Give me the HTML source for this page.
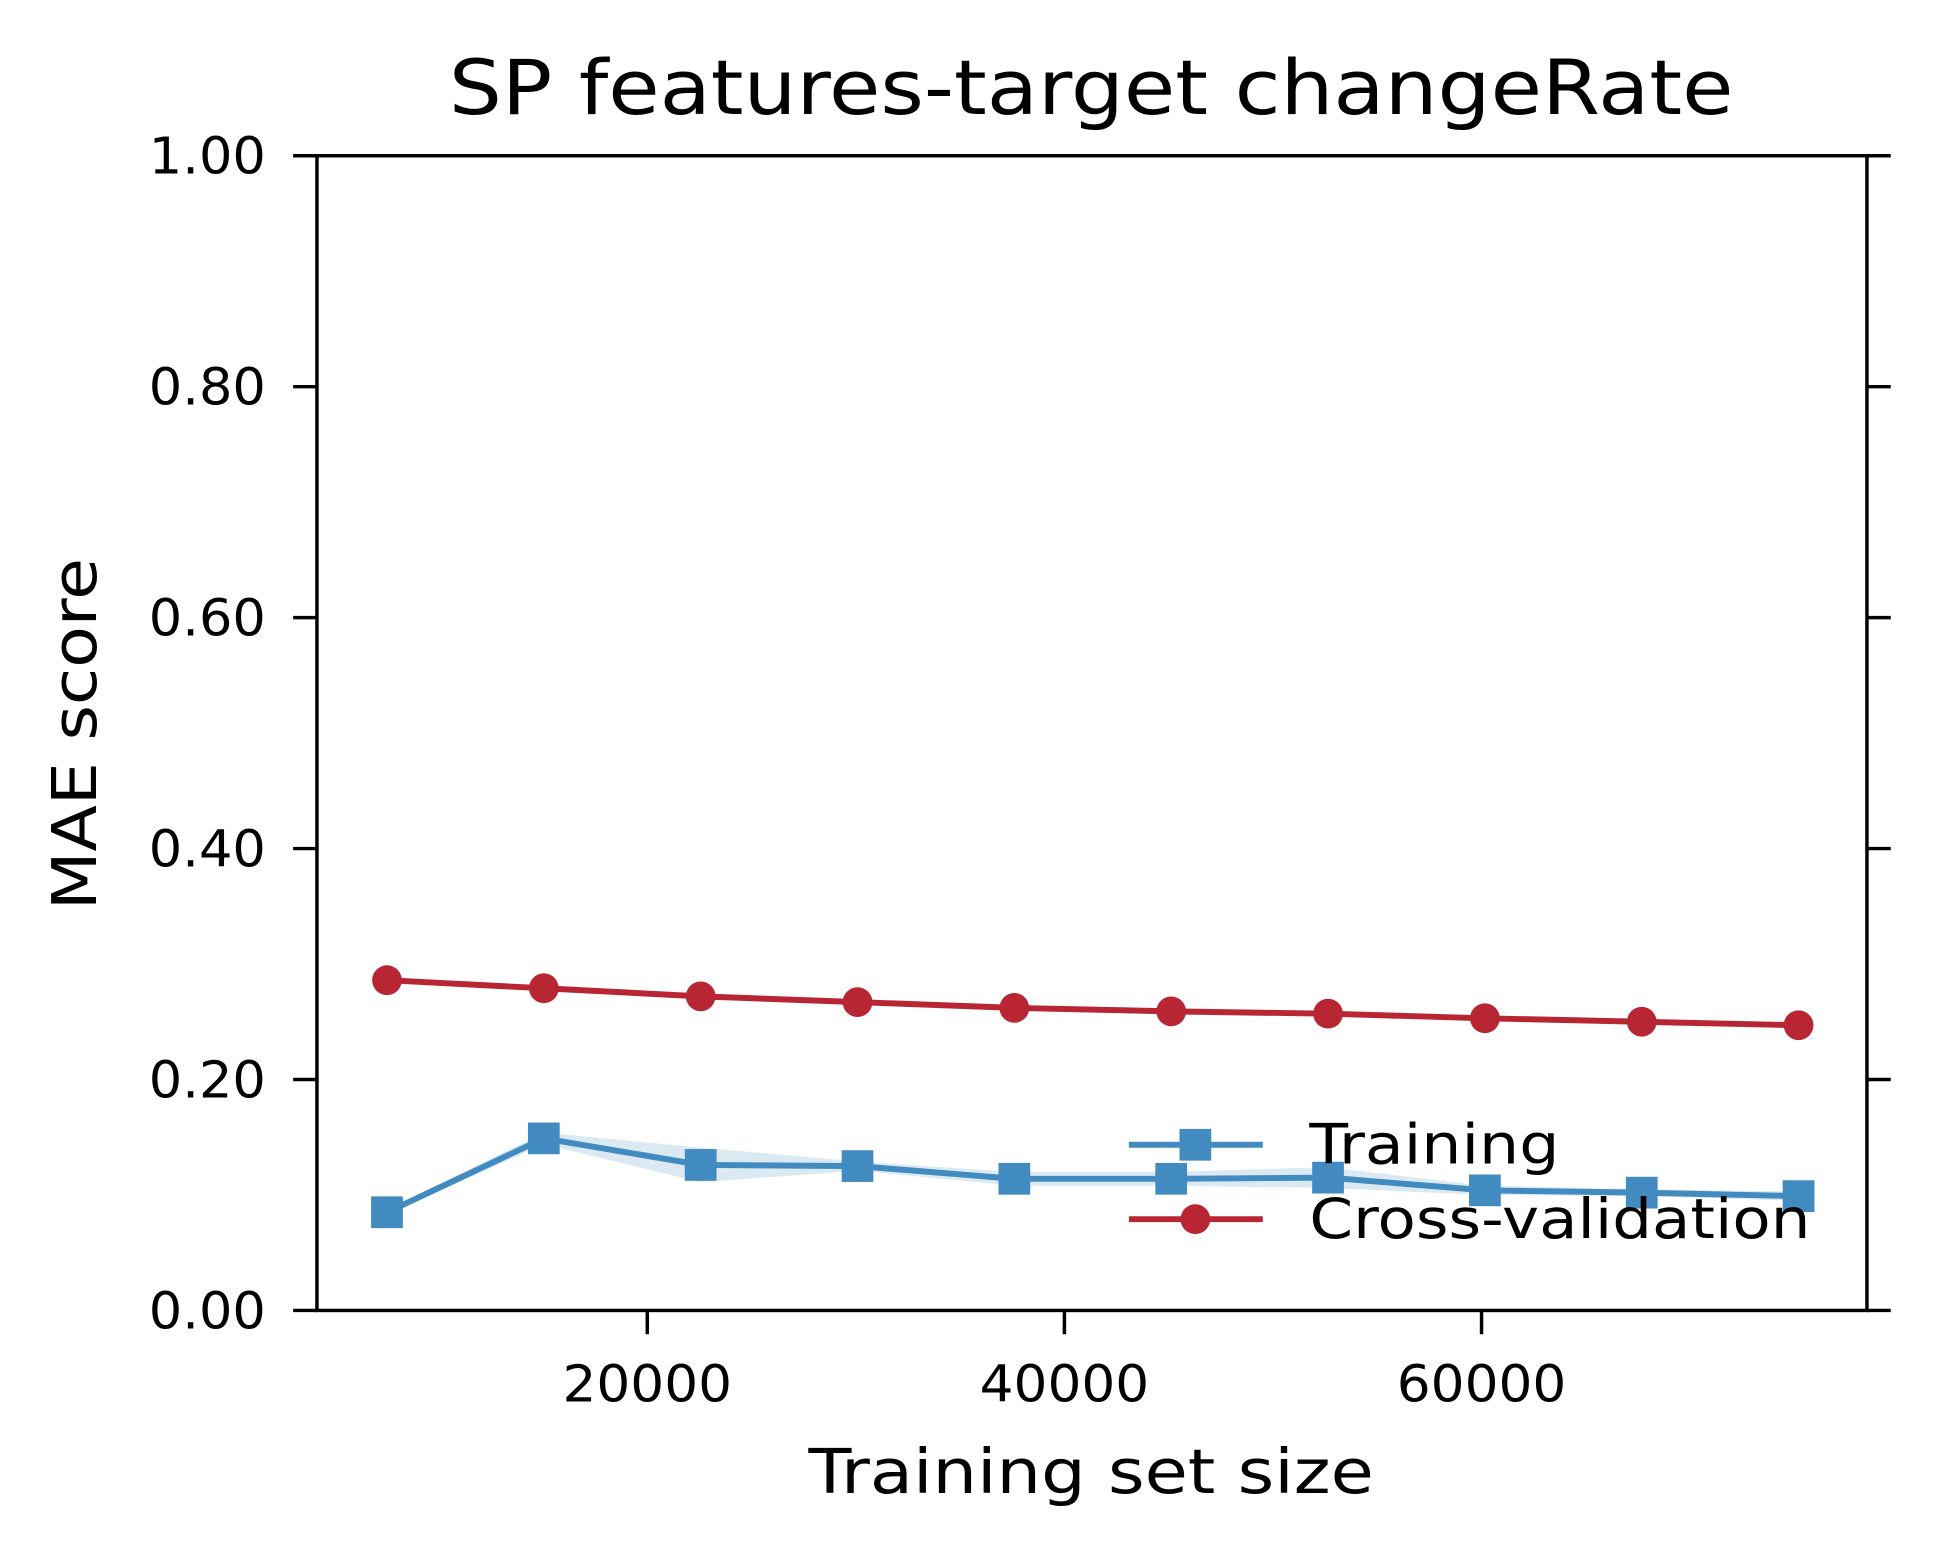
<!DOCTYPE html>
<html><head><meta charset="utf-8"><style>html,body{margin:0;padding:0;background:#fff}svg{display:block}text{font-family:"DejaVu Sans","Liberation Sans",sans-serif;fill:#000}</style></head>
<body>
<svg id="chart" width="1941" height="1558" viewBox="0 0 1941 1558" xmlns="http://www.w3.org/2000/svg">
<rect width="1941" height="1558" fill="#fff"/>
<g transform="scale(0.992)">
<text x="1100" y="115" font-size="76" text-anchor="middle" textLength="1295" lengthAdjust="spacingAndGlyphs">SP features-target changeRate</text>
<text transform="translate(97,740) rotate(-90)" font-size="62" text-anchor="middle" textLength="355" lengthAdjust="spacingAndGlyphs">MAE score</text>
<text x="1100" y="1505" font-size="62" text-anchor="middle" textLength="570" lengthAdjust="spacingAndGlyphs">Training set size</text>
<g id="plot"></g>
</g>
</svg>
<script>
const trainSizes=[7520,15040,22560,30080,37600,45120,52640,60160,67680,75200];
const trainMean=[0.085,0.149,0.126,0.125,0.114,0.114,0.115,0.104,0.102,0.099];
const trainStd=[0.002,0.005,0.015,0.004,0.006,0.006,0.009,0.004,0.003,0.004];
const cvMean=[0.286,0.279,0.272,0.267,0.262,0.259,0.257,0.253,0.250,0.247];
const cvStd=[0.002,0.002,0.002,0.002,0.002,0.002,0.002,0.002,0.002,0.002];
const yTicks=[0,0.2,0.4,0.6,0.8,1.0];
const yTickLabels=["0.00","0.20","0.40","0.60","0.80","1.00"];
const xTicks=[20000,40000,60000];
const xTickLabels=["20000","40000","60000"];

const L=319.5,R=1882,T=157,B=1321;
const X=v=>232+v*0.021025;
const Y=v=>B-(B-T)*v;
const NS='http://www.w3.org/2000/svg';
const g=document.getElementById('plot');
function mk(t,a,p){const e=document.createElementNS(NS,t);for(const k in a)e.setAttribute(k,a[k]);(p||g).appendChild(e);return e;}

function band(mean,std,color,name){
  let pts=trainSizes.map((s,i)=>X(s)+','+Y(mean[i]+std[i]));
  pts=pts.concat(trainSizes.map((s,i)=>X(s)+','+Y(mean[i]-std[i])).reverse());
  const e=mk('polygon',{points:pts.join(' '),fill:color,'fill-opacity':0.2});
  
  
}
band(trainMean,trainStd,'#4a8fc4','training-std-band');
band(cvMean,cvStd,'#b82634','cv-std-band');

function series(mean,color,marker,name){
  const l=mk('polyline',{points:trainSizes.map((s,i)=>X(s)+','+Y(mean[i])).join(' '),fill:'none',stroke:color,'stroke-width':6,'stroke-linejoin':'round'});
  
  
  trainSizes.forEach((s,i)=>{
    let m;
    if(marker==='s') m=mk('rect',{x:X(s)-16,y:Y(mean[i])-16,width:32,height:32,fill:color});
    else m=mk('circle',{cx:X(s),cy:Y(mean[i]),r:15,fill:color});
    
    
  });
}
series(trainMean,'#428bc1','s','training');
series(cvMean,'#b82634','o','cross-validation');

const fr=mk('rect',{x:L,y:T,width:R-L,height:B-T,fill:'none',stroke:'#000','stroke-width':3.5});



yTicks.forEach((v,i)=>{
  const y=Y(v);
  mk('line',{x1:L-24,x2:L,y1:y,y2:y,stroke:'#000','stroke-width':3.5});
  mk('line',{x1:R,x2:R+24,y1:y,y2:y,stroke:'#000','stroke-width':3.5});
  const t=mk('text',{x:268,y:y+18,'font-size':51,'text-anchor':'end',textLength:118,lengthAdjust:'spacingAndGlyphs'});
  t.textContent=yTickLabels[i];
  
  
});
xTicks.forEach((v,i)=>{
  const x=X(v);
  mk('line',{x1:x,x2:x,y1:B,y2:B+24,stroke:'#000','stroke-width':3.5});
  const t=mk('text',{x:x,y:1413,'font-size':51,'text-anchor':'middle',textLength:171,lengthAdjust:'spacingAndGlyphs'});
  t.textContent=xTickLabels[i];
  
  
});

const lg=mk('g',{});


[['Training','#428bc1','s',1154,252],['Cross-validation','#b82634','o',1229,505]].forEach(([lab,c,m,y,w])=>{
  const e=mk('g',{},lg);
  
  
  mk('line',{x1:1138,x2:1273,y1:y,y2:y,stroke:c,'stroke-width':6},e);
  if(m==='s') mk('rect',{x:1189,y:y-16,width:32,height:32,fill:c},e);
  else mk('circle',{cx:1205,cy:y,r:15,fill:c},e);
  const t=mk('text',{x:1320,y:y+19,'font-size':56,textLength:w,lengthAdjust:'spacingAndGlyphs'},e);
  t.textContent=lab;
});
</script>
</body></html>
